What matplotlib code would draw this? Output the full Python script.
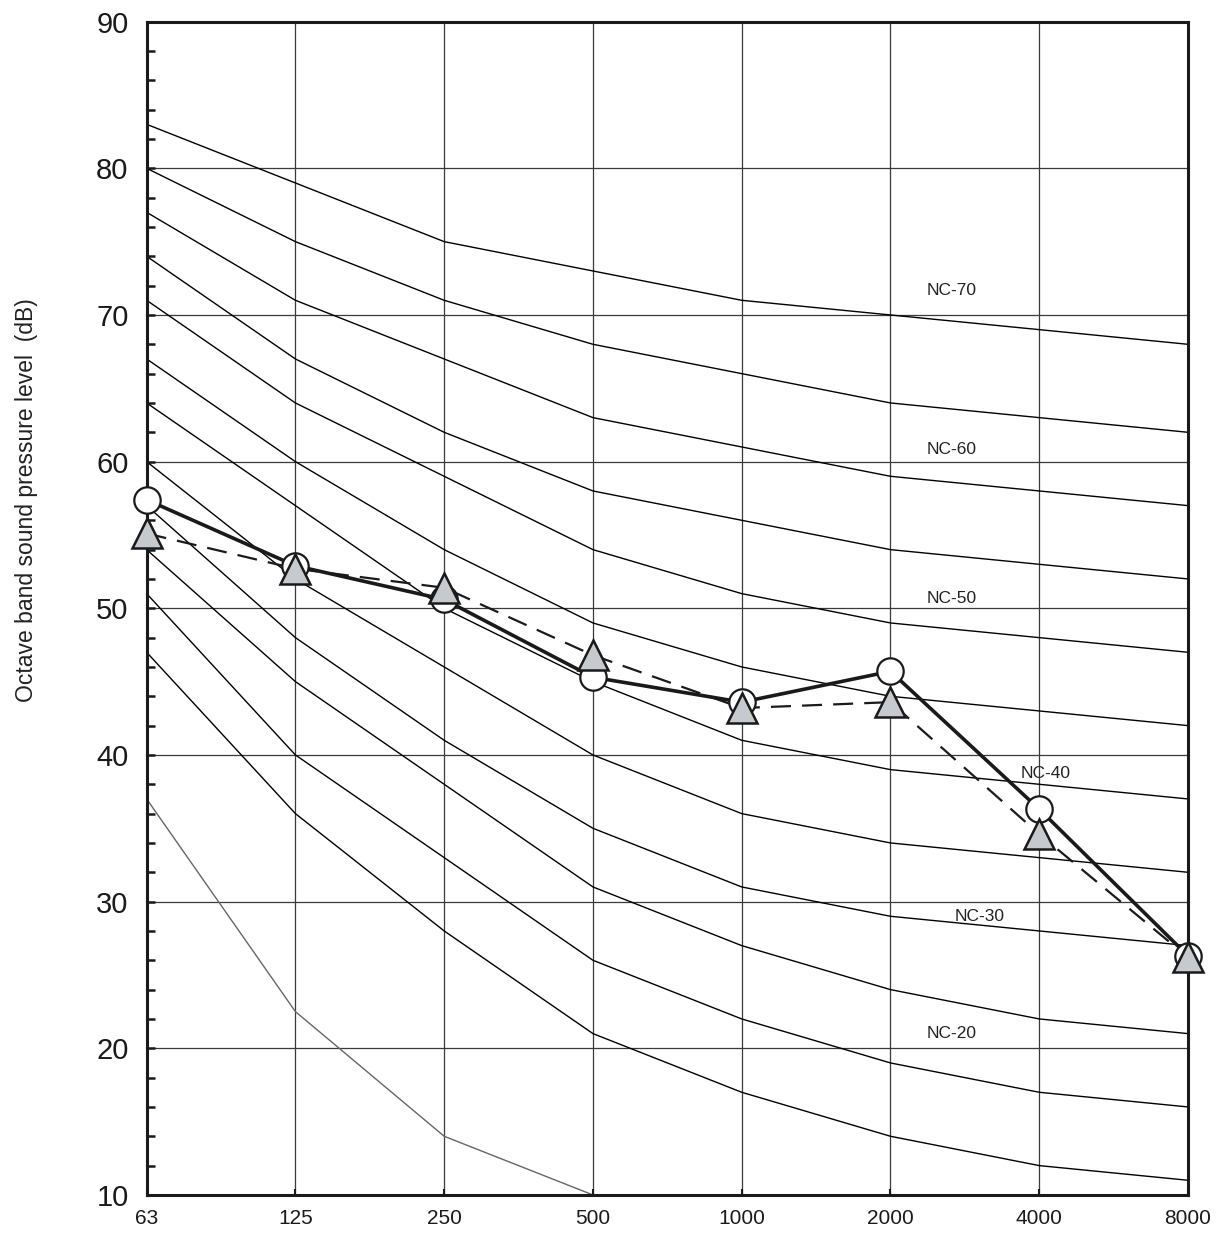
import numpy as np
import matplotlib
matplotlib.use('Agg')
import matplotlib.pyplot as plt

plt.rcParams['font.family'] = ['Liberation Sans', 'DejaVu Sans']

freqs = ['63', '125', '250', '500', '1000', '2000', '4000', '8000']

# NC curves, octave band levels 63 .. 8000 Hz
nc15 = [47, 36, 28, 21, 17, 14, 12, 11]
nc20 = [51, 40, 33, 26, 22, 19, 17, 16]
nc25 = [54, 45, 38, 31, 27, 24, 22, 21]
nc30 = [57, 48, 41, 35, 31, 29, 28, 27]
nc35 = [60, 52, 46, 40, 36, 34, 33, 32]
nc40 = [64, 57, 50, 45, 41, 39, 38, 37]
nc45 = [67, 60, 54, 49, 46, 44, 43, 42]
nc50 = [71, 64, 59, 54, 51, 49, 48, 47]
nc55 = [74, 67, 62, 58, 56, 54, 53, 52]
nc60 = [77, 71, 67, 63, 61, 59, 58, 57]
nc65 = [80, 75, 71, 68, 66, 64, 63, 62]
nc70 = [83, 79, 75, 73, 71, 70, 69, 68]
nc_curves = [nc15, nc20, nc25, nc30, nc35, nc40, nc45, nc50, nc55, nc60, nc65, nc70]

# threshold-like grey curve (only first four bands)
grey_curve = [37, 22.5, 14, 10]

# measured spectra
circle_vals = [57.4, 52.9, 50.6, 45.3, 43.6, 45.7, 36.3, 26.3]
triangle_vals = [55.1, 52.7, 51.4, 46.8, 43.2, 43.6, 34.6, 26.2]

nc_labels = ['NC-70', 'NC-60', 'NC-50', 'NC-40', 'NC-30', 'NC-20']
nc_label_x = [5.24, 5.24, 5.24, 5.875, 5.43, 5.24]
nc_label_y = [71.7, 60.8, 50.7, 38.75, 29.0, 21.0]

fig = plt.figure(figsize=(12.17, 12.37), dpi=100)
ax = fig.add_axes([0.1205, 0.034, 0.8557, 0.9485])

x = np.arange(len(freqs))

for c in nc_curves:
	ax.plot(x, c, color='black', lw=1.0, zorder=2)
ax.plot(x[:len(grey_curve)], grey_curve, color='#666666', lw=1.0, zorder=2)

for lab, lx, ly in zip(nc_labels, nc_label_x, nc_label_y):
	ax.text(lx, ly, lab, fontsize=12.5, color='#222222', ha='left', va='center', zorder=3)

ax.plot(x, triangle_vals, color='#1a1a1a', lw=1.6, dashes=(9, 5), zorder=4)
ax.plot(x, circle_vals, color='#1a1a1a', lw=2.6, zorder=5)
ax.plot(x, circle_vals, ls='none', marker='o', ms=19, mfc='white', mec='#1a1a1a', mew=1.6,
	zorder=9, clip_on=False)
ax.plot(x, triangle_vals, ls='none', marker='^', ms=22, mfc='#c6c9cd', mec='#1a1a1a', mew=1.8,
	zorder=10, clip_on=False)

ax.set_xlim(0, 7)
ax.set_ylim(10, 90)
ax.set_xticks(x)
ax.set_xticklabels(freqs)
ax.set_yticks(np.arange(10, 91, 10))
ax.set_yticks(np.arange(10, 91, 2), minor=True)

ax.grid(True, which='major', color='#3a3a3a', lw=0.9, zorder=1)
ax.set_axisbelow(True)

for s in ax.spines.values():
	s.set_linewidth(2.2)
	s.set_color('#1a1a1a')
	s.set_zorder(8)

ax.tick_params(axis='y', which='major', direction='in', length=6, width=1.8, labelsize=21, pad=13, colors='#1a1a1a')
ax.tick_params(axis='y', which='minor', direction='in', length=6, width=1.8, colors='#1a1a1a')
ax.tick_params(axis='x', which='major', direction='in', length=4, width=1.5, labelsize=15, pad=10, colors='#1a1a1a')

fig.text(0.022, 0.596, 'Octave band sound pressure level  (dB)', rotation=90,
	ha='center', va='center', fontsize=16.5, color='#222222')

fig.savefig('out.png', dpi=100)
